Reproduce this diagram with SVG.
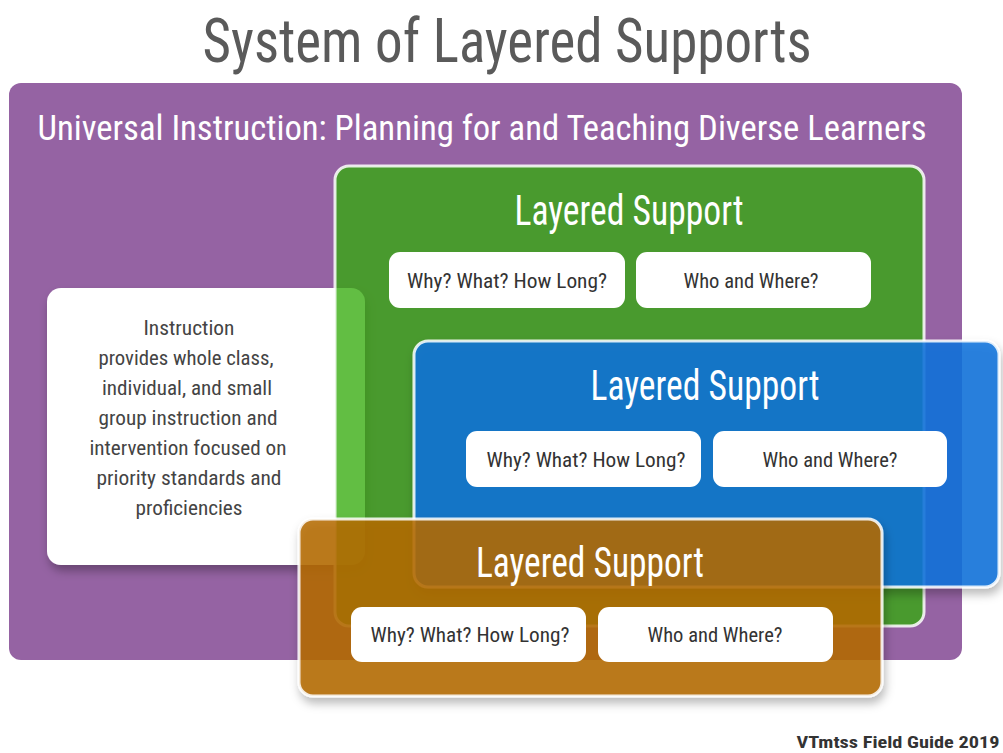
<svg xmlns="http://www.w3.org/2000/svg" width="1003" height="753" viewBox="0 0 1003 753">
<defs>
<filter id="sh" x="-10%" y="-10%" width="125%" height="135%">
<feDropShadow dx="2" dy="6" stdDeviation="5" flood-color="#000" flood-opacity="0.3"/>
</filter>
<style>
text{font-family:"Liberation Sans Narrow","Roboto Condensed","DejaVu Sans Condensed","Liberation Sans",sans-serif;text-anchor:middle}
.title{font-size:62px;fill:#5a5a5a}
.sub{font-size:35px;fill:#fff}
.ls{font-size:42px;fill:#fff}
.q{font-size:20px;fill:#333}
.ins{font-size:21px;fill:#444}
.foot{font-size:16px;font-weight:bold;fill:#333}
.pill{fill:#fff}
.layer{stroke:#fff;stroke-width:3;stroke-opacity:0.85}
</style>
</defs>
<rect width="1003" height="753" fill="#fff"/>
<g id="title"><text class="title" x="507" y="62" textLength="609" lengthAdjust="spacingAndGlyphs">System of Layered Supports</text></g>
<g id="universal">
<rect x="9" y="83" width="953" height="577" rx="12" fill="#9563a3"/>
<text class="sub" x="482" y="140" textLength="889" lengthAdjust="spacingAndGlyphs">Universal Instruction: Planning for and Teaching Diverse Learners</text>
</g>
<g id="instruction">
<rect x="47" y="288" width="318" height="277" rx="14" fill="#fff" filter="url(#sh)"/>
<text class="ins" x="189" y="335" textLength="91" lengthAdjust="spacingAndGlyphs">Instruction</text>
<text class="ins" x="186" y="365" textLength="175" lengthAdjust="spacingAndGlyphs">provides whole class,</text>
<text class="ins" x="187" y="395" textLength="170" lengthAdjust="spacingAndGlyphs">individual, and small</text>
<text class="ins" x="188" y="425" textLength="179" lengthAdjust="spacingAndGlyphs">group instruction and</text>
<text class="ins" x="188" y="455" textLength="197" lengthAdjust="spacingAndGlyphs">intervention focused on</text>
<text class="ins" x="189" y="485" textLength="185" lengthAdjust="spacingAndGlyphs">priority standards and</text>
<text class="ins" x="189" y="515" textLength="107" lengthAdjust="spacingAndGlyphs">proficiencies</text>
</g>
<g id="connectors"/>
<g id="layer-green">
<rect class="layer" x="335" y="166" width="589" height="460" rx="14" fill="#33aa0b" fill-opacity="0.77"/>
<text class="ls" x="629" y="225" textLength="229" lengthAdjust="spacingAndGlyphs">Layered Support</text>
<rect class="pill" x="389" y="252" width="236" height="56" rx="11"/>
<text class="q" x="507" y="288" textLength="200" lengthAdjust="spacingAndGlyphs">Why? What? How Long?</text>
<rect class="pill" x="636" y="252" width="235" height="56" rx="11"/>
<text class="q" x="751" y="288" textLength="135" lengthAdjust="spacingAndGlyphs">Who and Where?</text>
</g>
<g id="layer-blue">
<rect class="layer" x="414" y="341" width="585" height="246" rx="14" fill="#0872dc" fill-opacity="0.86" filter="url(#sh)"/>
<text class="ls" x="705" y="400" textLength="229" lengthAdjust="spacingAndGlyphs">Layered Support</text>
<rect class="pill" x="466" y="431" width="235" height="56" rx="11"/>
<text class="q" x="586" y="467" textLength="199" lengthAdjust="spacingAndGlyphs">Why? What? How Long?</text>
<rect class="pill" x="713" y="431" width="234" height="56" rx="11"/>
<text class="q" x="830" y="467" textLength="135" lengthAdjust="spacingAndGlyphs">Who and Where?</text>
</g>
<g id="layer-orange">
<rect class="layer" x="299" y="519" width="583" height="177" rx="14" fill="#b46b07" fill-opacity="0.86" filter="url(#sh)"/>
<text class="ls" x="590" y="577" textLength="228" lengthAdjust="spacingAndGlyphs">Layered Support</text>
<rect class="pill" x="351" y="607" width="235" height="55" rx="11"/>
<text class="q" x="470" y="642" textLength="199" lengthAdjust="spacingAndGlyphs">Why? What? How Long?</text>
<rect class="pill" x="598" y="607" width="235" height="55" rx="11"/>
<text class="q" x="715" y="642" textLength="135" lengthAdjust="spacingAndGlyphs">Who and Where?</text>
</g>
<g id="footer"><text class="foot" x="898" y="748" textLength="203" lengthAdjust="spacingAndGlyphs">VTmtss Field Guide 2019</text></g>
</svg>
